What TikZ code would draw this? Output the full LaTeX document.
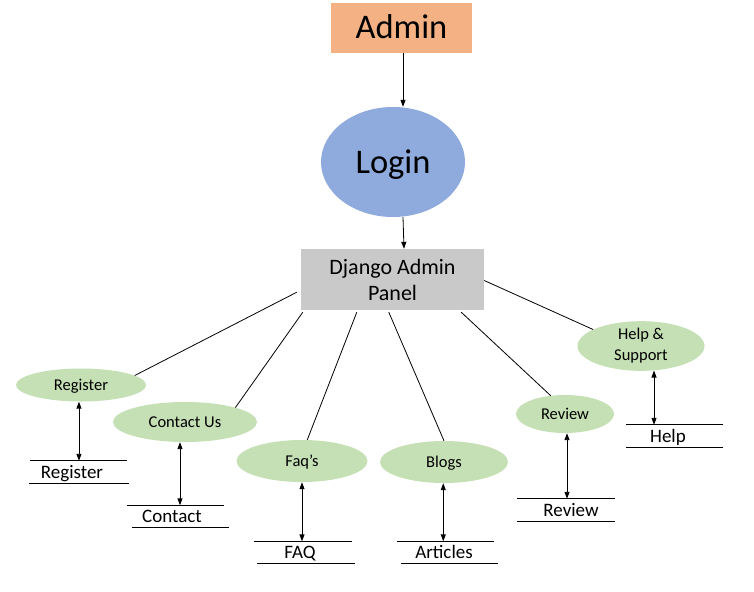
\documentclass[tikz,border=0pt]{standalone}
\usepackage{fontspec}
\setmainfont{Carlito}
\usetikzlibrary{shapes.geometric,arrows.meta}
\definecolor{adminc}{HTML}{F4B183}
\definecolor{loginc}{HTML}{8FAADC}
\definecolor{panelc}{HTML}{C9C9C9}
\definecolor{ellc}{HTML}{C5E0B4}
\begin{document}
\begin{tikzpicture}[x=1pt,y=-1pt,
  every node/.style={inner sep=0pt},
  conn/.style={line width=0.8pt},
  dbl/.style={line width=0.9pt,{Triangle[length=7pt,width=5pt]}-{Triangle[length=7pt,width=5pt]}},
  arr/.style={line width=0.8pt,-{Triangle[length=7pt,width=5pt]}},
  big/.style={font=\fontsize{34.5}{40}\selectfont,text height=26pt,text depth=4pt},
  ell/.style={ellipse,fill=ellc,font=\fontsize{16.5}{21}\selectfont},
  onel/.style={text height=12pt,text depth=0.5pt},
  store/.style={minimum width=97pt,minimum height=22pt,font=\fontsize{19}{22}\selectfont,text height=13.5pt,text depth=1pt},
  sline/.style={line width=0.8pt}]
\useasboundingbox (0,0) rectangle (754,591);
\fill[white] (0,0) rectangle (754,591);

\node[fill=adminc,minimum width=141pt,minimum height=50pt,big] (admin) at (401.5,28) {Admin};
\node[ellipse,fill=loginc,minimum width=144pt,minimum height=110pt,big] (login) at (393,162) {Login};
\node[fill=panelc,minimum width=183pt,minimum height=61pt,align=center,font=\fontsize{22}{26}\selectfont] (panel) at (392.5,279.5) {Django Admin\\Panel};

\draw[arr] ([xshift=1.5pt]admin.south) -- ([xshift=10pt]login.north);
\draw[arr] ([xshift=10pt]login.south) -- ([xshift=11.5pt]panel.north);

\node[ell,onel,minimum width=130pt,minimum height=33pt] (register) at (81,385) {Register};
\node[ell,onel,minimum width=144pt,minimum height=40pt] (contact) at (185,422) {Contact Us};
\node[ell,onel,minimum width=131pt,minimum height=42pt] (faq) at (302,461) {Faq’s};
\node[ell,onel,minimum width=128pt,minimum height=42pt] (blogs) at (444,462) {Blogs};
\node[ell,onel,minimum width=98pt,minimum height=38pt] (review) at (565,414) {Review};
\node[ell,align=center,minimum width=127pt,minimum height=42pt] (help) at (641,346) {Help \&\\Support};

\draw[conn] ([shift={(-4pt,18pt)}]panel.south west) -- (register.10);
\draw[conn] ([shift={(2pt,-2pt)}]panel.south west) -- (contact.16);
\draw[conn] ([shift={(56pt,-2pt)}]panel.south west) -- (faq.76);
\draw[conn] ([shift={(88pt,-2pt)}]panel.south west) -- (blogs.90);
\draw[conn] ([shift={(-23pt,-2pt)}]panel.south east) -- (review.128);
\draw[conn] ([yshift=-1pt]panel.east) -- (help.161);

\node[store] (s1) at (78.5,472) {\hspace*{-13pt}Register};
\node[store] (s2) at (175.5,516.5) {\hspace*{-7pt}Contact};
\node[store] (s3) at (303,552.5) {\hspace*{-6pt}FAQ};
\node[store] (s4) at (445.5,552.5) {\hspace*{-3pt}Articles};
\node[store] (s5) at (566,510) {\hspace*{10pt}Review};
\node[store] (s6) at (674.5,436) {\hspace*{-13pt}Help};

\draw[sline] (s1.north west) -- (s1.north east);
\draw[sline] ([xshift=-1pt]s1.south west) -- ([xshift=2pt]s1.south east);
\draw[sline] (s2.north west) -- (s2.north east);
\draw[sline] ([xshift=5pt]s2.south west) -- ([xshift=5pt]s2.south east);
\draw[sline] (s3.north west) -- (s3.north east);
\draw[sline] ([xshift=3pt]s3.south west) -- ([xshift=3pt]s3.south east);
\draw[sline] (s4.north west) -- (s4.north east);
\draw[sline] ([xshift=4pt]s4.south west) -- ([xshift=4pt]s4.south east);
\draw[sline] (s5.north west) -- (s5.north east);
\draw[sline] (s5.south west) -- (s5.south east);
\draw[sline] (s6.north west) -- (s6.north east);
\draw[sline] (s6.south west) -- (s6.south east);

\draw[dbl] (register.263) -- (register.263 |- s1.north);
\draw[dbl] (contact.256) -- (contact.256 |- s2.north);
\draw[dbl] (faq.270) -- (faq.270 |- s3.north);
\draw[dbl] (blogs.268) -- (blogs.268 |- s4.north);
\draw[dbl] (review.276) -- (review.276 |- s5.north);
\draw[dbl] (help.298) -- (help.298 |- s6.north);
\end{tikzpicture}
\end{document}
